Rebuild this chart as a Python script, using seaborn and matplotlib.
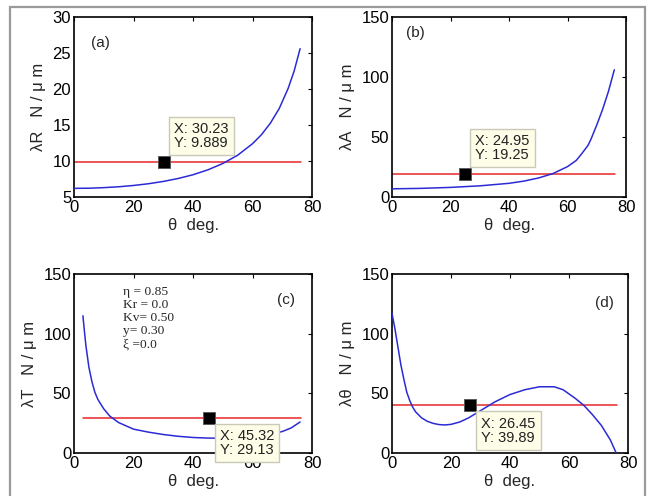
import matplotlib
matplotlib.use("Agg")
import matplotlib.pyplot as plt
from matplotlib.patches import Rectangle
import numpy as np
import pandas as pd
import seaborn as sns

# curves (theta in degrees)
theta_a = [0, 5, 10, 15, 20, 25, 30, 35, 40, 45, 50, 55, 60, 63, 66, 69, 72, 74, 76]
lam_r = [6.2, 6.22, 6.3, 6.42, 6.6, 6.84, 7.16, 7.57, 8.09, 8.77, 9.65, 10.8, 12.4,
         13.65, 15.25, 17.3, 20.1, 22.5, 25.6]

theta_b = [0, 10, 20, 30, 40, 45, 50, 55, 60, 63, 65, 67, 68, 70, 72, 74, 76]
lam_a = [6.8, 7.2, 8.0, 9.3, 11.4, 13.2, 15.8, 19.5, 25.3, 30.5, 36.5, 43, 48, 60, 73,
         88, 106]

theta_c = [3, 3.5, 4, 5, 6, 7, 8, 10, 12, 15, 20, 25, 30, 35, 40, 45, 50, 55, 60, 65, 70,
           73, 76]
lam_t = [115, 102, 90, 72, 60, 51, 45, 37, 31, 25.5, 20, 17.5, 15.5, 14, 13, 12.5, 12.4,
         12.8, 13.6, 15.2, 18, 21, 26]

theta_d = [0, 1, 2, 3, 4, 5, 6, 7, 8, 10, 12, 14, 16, 18, 20, 23, 26, 30, 35, 40, 45, 50,
           55, 58, 62, 65, 68, 71, 74, 76]
lam_th = [117, 104, 89, 74, 62, 51, 44, 38.5, 34.5, 29.5, 26.5, 24.8, 23.8, 23.5, 24,
          26, 29.5, 35.5, 43, 49, 53, 55.5, 55.5, 53, 46, 40, 32, 23, 11, 0]

# horizontal red lines and the data tips
line_x = [(0, 76.3), (0, 76.3), (3, 76.3), (0, 76.3)]
tip_x = [30.23, 24.95, 45.32, 26.45]
tip_y = [9.889, 19.25, 29.13, 39.89]
tip_txt = ["X: 30.23\nY: 9.889", "X: 24.95\nY: 19.25", "X: 45.32\nY: 29.13", "X: 26.45\nY: 39.89"]

panel_tags = ["(a)", "(b)", "(c)", "(d)"]
ylabels = ["λR   N / μ m", "λA   N / μ m", "λT   N / μ m", "λθ   N / μ m"]
yranges = [(5, 30), (0, 150), (0, 150), (0, 150)]
yticks = [[5, 10, 15, 20, 25, 30], [0, 50, 100, 150], [0, 50, 100, 150], [0, 50, 100, 150]]
params_txt = "η = 0.85\nKr = 0.0\nKv= 0.50\ny= 0.30\nξ =0.0"

sns.set_style("white")
plt.rcParams["font.family"] = ["Liberation Sans", "DejaVu Sans"]

W, H = 651, 496
fig = plt.figure(figsize=(W / 100, H / 100), dpi=100)
fig.patches.append(Rectangle((10 / W, -0.1), 635 / W, 1.1 - 7 / H, transform=fig.transFigure,
                             fill=False, edgecolor="#9a9a9a", lw=1.6, zorder=0))

# axes boxes in pixels: left, top, right, bottom
boxes = [(74, 17, 312, 197), (392, 17, 626, 197), (74, 274, 312, 453), (392, 274, 628, 453)]
curves = [(theta_a, lam_r), (theta_b, lam_a), (theta_c, lam_t), (theta_d, lam_th)]
tag_pos = [(0.07, 0.856), (0.06, 0.91), (0.853, 0.855), (0.86, 0.84)]

for i, (l, t, r, b) in enumerate(boxes):
    ax = fig.add_axes([l / W, 1 - b / H, (r - l) / W, (b - t) / H])
    th, lam = curves[i]
    df = pd.DataFrame({"theta": th, "lam": lam})
    sns.lineplot(data=df, x="theta", y="lam", ax=ax, color="#2b2bd6", lw=1.1, zorder=3)
    ref = pd.DataFrame({"theta": list(line_x[i]), "lam": [tip_y[i], tip_y[i]]})
    sns.lineplot(data=ref, x="theta", y="lam", ax=ax, color="#e8262a", lw=1.1, zorder=2)
    sns.scatterplot(x=[tip_x[i]], y=[tip_y[i]], ax=ax, marker="s", s=70, color="black",
                    edgecolor="#555555", linewidth=0.6, zorder=5, clip_on=False)
    if i < 2:
        off, va = (7.5, 8.5), "bottom"
    else:
        off, va = (8, -8), "top"
    ax.annotate(tip_txt[i], xy=(tip_x[i], tip_y[i]), xytext=off, textcoords="offset points",
                ha="left", va=va, fontsize=10.5, color="#222222", linespacing=1.0,
                bbox=dict(boxstyle="square,pad=0.35", fc="#fdfde8", ec="#c9c9b8", lw=1),
                zorder=10, annotation_clip=False)
    ax.text(*tag_pos[i], panel_tags[i], transform=ax.transAxes, fontsize=11,
            ha="left", va="center")
    ax.set_xlim(0, 80)
    ax.set_ylim(*yranges[i])
    ax.set_xticks([0, 20, 40, 60, 80])
    ax.set_yticks(yticks[i])
    ax.tick_params(direction="in", top=True, right=True, length=3, width=0.8,
                   labelsize=12, pad=2, colors="black")
    for sp in ax.spines.values():
        sp.set_color("black")
        sp.set_linewidth(1.2)
    ax.set_xlabel("θ  deg.", fontsize=12, labelpad=2)
    ax.set_ylabel(ylabels[i], fontsize=12, labelpad=5)

    if i == 2:
        ax.text(16.5, 140, params_txt, fontsize=9.7, family=["Liberation Serif", "DejaVu Serif"],
                ha="left", va="top", linespacing=1.12)

fig.savefig("out.png", dpi=100)
